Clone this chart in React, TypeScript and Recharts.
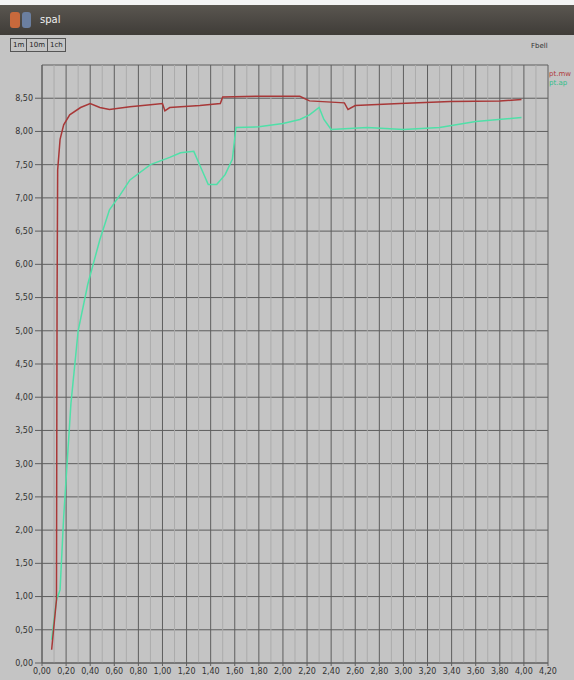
import { LineChart, Line, XAxis, YAxis, CartesianGrid, ReferenceLine } from "recharts";

const xTicks = [0, 0.2, 0.4, 0.6, 0.8, 1, 1.2, 1.4, 1.6, 1.8, 2, 2.2, 2.4, 2.6, 2.8, 3, 3.2, 3.4, 3.6, 3.8, 4, 4.2];
const yTicks = [0, 0.5, 1, 1.5, 2, 2.5, 3, 3.5, 4, 4.5, 5, 5.5, 6, 6.5, 7, 7.5, 8, 8.5];
const minorX = [0.1, 0.3, 0.5, 0.7, 0.9, 1.1, 1.3, 1.5, 1.7, 1.9, 2.1, 2.3, 2.5, 2.7, 2.9, 3.1, 3.3, 3.5, 3.7, 3.9, 4.1];

// pt.mw (red)
const mwX = [0.08, 0.12, 0.125, 0.13, 0.15, 0.18, 0.23, 0.32, 0.4, 0.48, 0.56, 0.73, 0.9, 1.0, 1.02, 1.06, 1.31, 1.48, 1.5, 1.81, 2.14, 2.22, 2.51, 2.54, 2.6, 2.97, 3.39, 3.8, 3.98];
const mwY = [0.2, 0.95, 5.47, 7.42, 7.88, 8.1, 8.25, 8.36, 8.42, 8.36, 8.33, 8.37, 8.4, 8.42, 8.31, 8.36, 8.39, 8.42, 8.52, 8.53, 8.53, 8.46, 8.43, 8.33, 8.39, 8.42, 8.45, 8.46, 8.48];

// pt.ap (green)
const apX = [0.08, 0.12, 0.15, 0.18, 0.24, 0.3, 0.38, 0.48, 0.56, 0.65, 0.73, 0.9, 1.06, 1.15, 1.26, 1.32, 1.38, 1.45, 1.52, 1.58, 1.61, 1.8, 2.0, 2.14, 2.22, 2.3, 2.34, 2.4, 2.7, 3.0, 3.3, 3.6, 3.98];
const apY = [0.35, 0.95, 1.1, 2.2, 3.9, 5.0, 5.7, 6.37, 6.82, 7.05, 7.27, 7.5, 7.61, 7.68, 7.7, 7.45, 7.2, 7.2, 7.35, 7.58, 8.06, 8.07, 8.12, 8.18, 8.25, 8.36, 8.18, 8.03, 8.06, 8.03, 8.06, 8.15, 8.21];

const mwData = mwX.map((x, i) => ({ x, y: mwY[i] }));
const apData = apX.map((x, i) => ({ x, y: apY[i] }));

const fmt = (v: number) => v.toFixed(2).replace(".", ",");

export default function App() {
  return (
    <div style={{ position: "fixed", left: 0, top: 0, width: 574, height: 680, background: "#c4c4c4", overflow: "hidden", fontFamily: "DejaVu Sans, sans-serif" }}>
      <div style={{ position: "absolute", left: 0, top: 0, width: 574, height: 5, background: "#f4f4f4" }} />
      <div style={{ position: "absolute", left: 0, top: 5, width: 574, height: 30, background: "linear-gradient(#5a5650, #3f3c38)" }}>
        <div style={{ position: "absolute", left: 10, top: 7, width: 10, height: 16, background: "#c8693c", borderRadius: 3 }} />
        <div style={{ position: "absolute", left: 22, top: 7, width: 9, height: 16, background: "#6b7fa0", borderRadius: 3 }} />
        <span style={{ position: "absolute", left: 40, top: 9, fontSize: 10, color: "#f0f0f0" }}>spal</span>
      </div>
      <div style={{ position: "absolute", left: 10, top: 38, display: "flex", border: "1px solid #555", fontSize: 7, color: "#222" }}>
        <span style={{ padding: "2px 2px", borderRight: "1px solid #555" }}>1m</span>
        <span style={{ padding: "2px 2px", borderRight: "1px solid #555" }}>10m</span>
        <span style={{ padding: "2px 2px" }}>1ch</span>
      </div>
      <span style={{ position: "absolute", left: 531, top: 42, fontSize: 7, color: "#333" }}>Fbell</span>
      <div style={{ position: "absolute", left: 549, top: 70, fontSize: 7, lineHeight: "9px" }}>
        <div style={{ color: "#b03a3a" }}>pt.mw</div>
        <div style={{ color: "#2fbf8a" }}>pt.ap</div>
      </div>
      <div style={{ position: "absolute", left: 0, top: 0 }}>
        <LineChart width={574} height={680} margin={{ top: 65, right: 26, bottom: 0, left: 0 }}>
          <CartesianGrid stroke="#5e5e5e" strokeWidth={1} />
          {minorX.map((v) => (
            <ReferenceLine key={v} x={v} stroke="#ababab" strokeWidth={1} />
          ))}
          <XAxis
            dataKey="x"
            type="number"
            domain={[0, 4.2]}
            ticks={xTicks}
            tickFormatter={fmt}
            height={17}
            tickSize={3}
            stroke="#5e5e5e"
            tick={{ fontSize: 8, fill: "#333" }}
            interval={0}
            allowDuplicatedCategory={false}
          />
          <YAxis
            type="number"
            domain={[0, 9]}
            ticks={yTicks}
            tickFormatter={fmt}
            width={42}
            tickSize={7}
            stroke="#5e5e5e"
            tick={{ fontSize: 8, fill: "#333" }}
            interval={0}
          />
          <Line data={apData} dataKey="y" type="linear" stroke="#4fe0a8" strokeWidth={1.5} dot={false} isAnimationActive={false} />
          <Line data={mwData} dataKey="y" type="linear" stroke="#a83838" strokeWidth={1.5} dot={false} isAnimationActive={false} />
        </LineChart>
      </div>
    </div>
  );
}
